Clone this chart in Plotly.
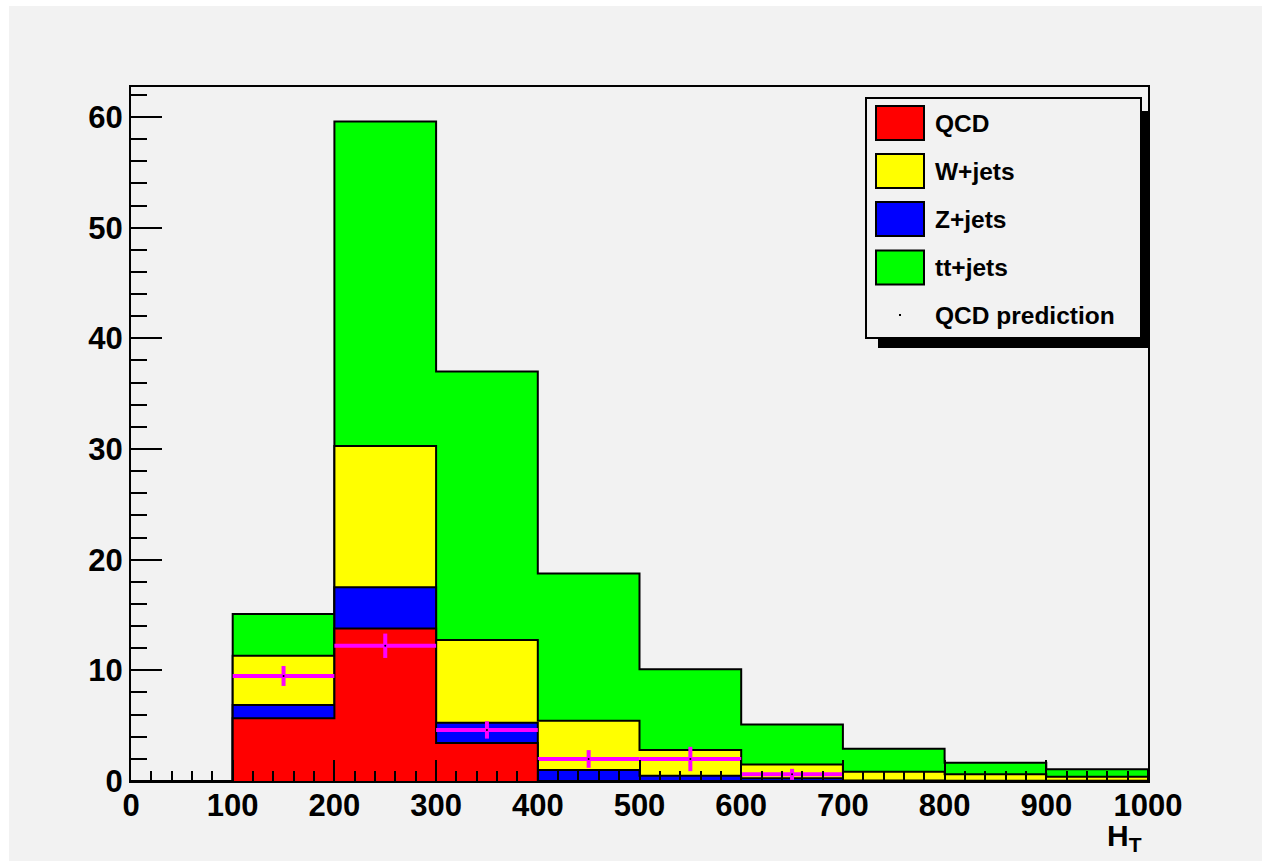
import numpy as np
import plotly.graph_objects as go

# ---------------- data ----------------
bin_edges = [0, 100, 200, 300, 400, 500, 600, 700, 800, 900, 1000]
qcd      = [0, 5.66, 13.79, 3.43, 0.00, 0.00, 0.00, 0.00, 0.00, 0.00]
z_jets   = [0, 1.21, 3.71, 1.84, 0.99, 0.48, 0.24, 0.05, 0.03, 0.02]
w_jets   = [0, 4.45, 12.76, 7.47, 4.46, 2.32, 1.26, 0.79, 0.57, 0.37]
tt_jets  = [0, 3.78, 29.34, 24.26, 13.31, 7.30, 3.60, 2.08, 1.05, 0.67]

pred_x   = [150, 250, 350, 450, 550, 650]
pred_y   = [9.49, 12.22, 4.61, 1.99, 1.99, 0.60]
pred_err = [0.90, 1.10, 0.78, 0.80, 1.10, 0.50]

legend_labels = ["QCD", "W+jets", "Z+jets", "tt+jets", "QCD prediction"]
x_ticks = [0, 100, 200, 300, 400, 500, 600, 700, 800, 900, 1000]
y_ticks = [0, 10, 20, 30, 40, 50, 60]

RED, YEL, BLU, GRN, MAG = "#ff0000", "#ffff00", "#0000ff", "#00ff00", "#ff00ff"
BG = "#f2f2f2"
FONT = "Liberation Sans, Arial, Helvetica, sans-serif"

# ---------------- geometry (pixels) ----------------
W, H = 1262, 861
L, R, T, B = 131, 1148, 87, 781
def fx(px):
    return (px - L) / (R - L)
def fy(py):
    return (B - py) / (B - T)

edges = np.array(bin_edges, dtype=float)
c_red = np.array(qcd)
c_blu = c_red + np.array(z_jets)
c_yel = c_blu + np.array(w_jets)
c_grn = c_yel + np.array(tt_jets)

fig = go.Figure()

def step_trace(cum, color):
    xs = list(edges[:-1]) + [edges[-1], edges[-1]]
    ys = list(cum) + [cum[-1], 0.0]
    return go.Scatter(x=xs, y=ys, mode="lines", line=dict(shape="hv", color="black", width=2),
                      fill="tozeroy", fillcolor=color, showlegend=False, hoverinfo="skip")

fig.add_trace(step_trace(c_grn, GRN))
fig.add_trace(step_trace(c_yel, YEL))
fig.add_trace(step_trace(c_blu, BLU))
fig.add_trace(step_trace(c_red, RED))

halfw = [(edges[1] - edges[0]) / 2.0] * len(pred_x)
fig.add_trace(go.Scatter(
    x=pred_x, y=pred_y, mode="markers",
    marker=dict(color="black", size=2),
    error_x=dict(type="data", array=halfw, color=MAG, thickness=4, width=0),
    error_y=dict(type="data", array=pred_err, color=MAG, thickness=4, width=0),
    showlegend=False, hoverinfo="skip"))

shapes = []
# canvas background
shapes.append(dict(type="rect", xref="paper", yref="paper", x0=fx(9), x1=fx(1262), y0=fy(861), y1=fy(6),
                   fillcolor=BG, line=dict(width=0), layer="below"))
# legend shadow + box
shapes.append(dict(type="rect", xref="paper", yref="paper", x0=fx(878), x1=fx(1149), y0=fy(348), y1=fy(111),
                   fillcolor="black", line=dict(width=0)))
shapes.append(dict(type="rect", xref="paper", yref="paper", x0=fx(866), x1=fx(1141), y0=fy(338), y1=fy(98),
                   fillcolor=BG, line=dict(color="black", width=2)))
sw_colors = [RED, YEL, BLU, GRN]
sw_tops = [106, 154, 202, 250.5]
for c, t in zip(sw_colors, sw_tops):
    shapes.append(dict(type="rect", xref="paper", yref="paper", x0=fx(876), x1=fx(924), y0=fy(t + 34), y1=fy(t),
                       fillcolor=c, line=dict(color="black", width=2)))
shapes.append(dict(type="rect", xref="paper", yref="paper", x0=fx(899), x1=fx(901), y0=fy(316), y1=fy(314),
                   fillcolor="black", line=dict(width=0)))

annotations = []
text_y = [123, 171, 219, 267, 315]
for lab, ty in zip(legend_labels, text_y):
    annotations.append(dict(xref="paper", yref="paper", x=fx(934), y=fy(ty), text="<b>%s</b>" % lab,
                            showarrow=False, xanchor="left", yanchor="middle", borderpad=0,
                            font=dict(family=FONT, size=24.5, color="black")))
annotations.append(dict(xref="paper", yref="paper", x=fx(1143), y=fy(837), text="<b>H<sub>T</sub></b>",
                        showarrow=False, xanchor="right", yanchor="middle", borderpad=0,
                        font=dict(family=FONT, size=30, color="black")))

ymax = (B - T) / ((B - 117) / 60.0)

fig.update_layout(
    width=W, height=H,
    margin=dict(l=L, r=W - R, t=T, b=H - B, pad=0),
    paper_bgcolor="white", plot_bgcolor=BG,
    shapes=shapes, annotations=annotations,
    showlegend=False,
    xaxis=dict(range=[edges[0], edges[-1]], tickmode="array", tickvals=x_ticks,
               ticktext=[str(v) for v in x_ticks],
               ticks="inside", ticklen=21, tickwidth=2, tickcolor="black",
               minor=dict(dtick=20, ticks="inside", ticklen=10, tickwidth=2, tickcolor="black"),
               showgrid=False, zeroline=False, showline=True, linecolor="black", linewidth=2, mirror=True,
               ticklabelstandoff=-4,
               tickfont=dict(family=FONT, size=31, color="black", weight="bold")),
    yaxis=dict(range=[0, ymax], tickmode="array", tickvals=y_ticks,
               ticktext=[str(v) for v in y_ticks],
               ticks="inside", ticklen=31, tickwidth=2, tickcolor="black",
               minor=dict(dtick=2, ticks="inside", ticklen=16, tickwidth=2, tickcolor="black"),
               showgrid=False, zeroline=False, showline=True, linecolor="black", linewidth=2, mirror=True,
               tickfont=dict(family=FONT, size=31, color="black", weight="bold")),
)

fig.write_html("out.html")
